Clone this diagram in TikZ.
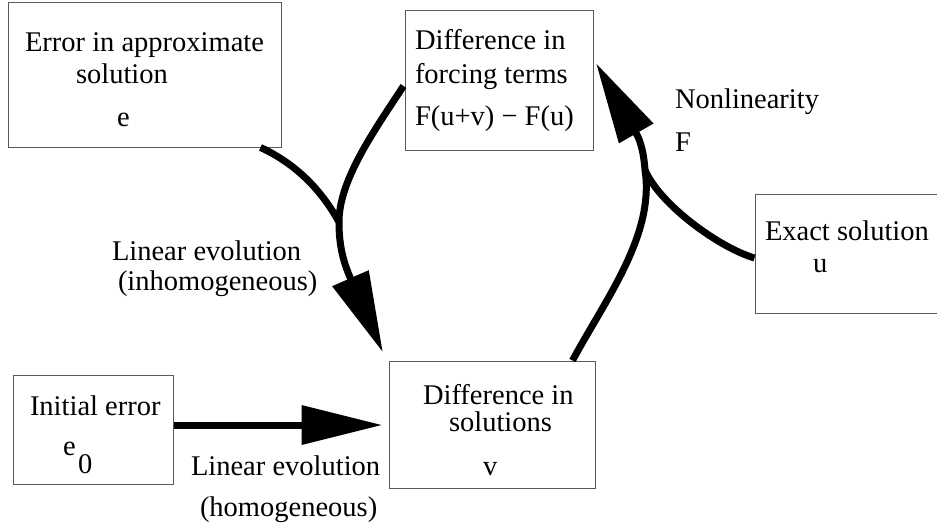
\documentclass[tikz,border=0pt]{standalone}
\usepackage{fontspec}
\setmainfont{Liberation Serif}
\usetikzlibrary{arrows.meta,calc}
\begin{document}
\begin{tikzpicture}[x=1pt,y=-1pt,
  box/.style={draw=black!65, line width=1pt, inner sep=0pt, rectangle},
  txt/.style={anchor=base west, inner sep=0pt, outer sep=0pt,
              font=\fontsize{28.5}{34}\selectfont},
  flow/.style={line width=7pt, line cap=butt, line join=round},
  head/.style={-{Triangle[length=80pt,width=40pt,line width=0pt]}},
]
\useasboundingbox (0,0) rectangle (937,527);
\clip (0,0) rectangle (937,527);

% boxes
\node[box, minimum width=273pt, minimum height=144pt] (A) at (144.5,75) {};
\node[box, minimum width=188pt, minimum height=139pt] (B) at (499,80.5) {};
\node[box, minimum width=205pt, minimum height=119pt] (C) at (857.5,253.5) {};
\node[box, minimum width=160pt, minimum height=109pt] (D) at (93,429.5) {};
\node[box, minimum width=206pt, minimum height=127pt] (E) at (492,424.5) {};

% box texts
\node[txt] (tA1) at (25,52) {Error in approximate};
\node[txt] (tA2) at (76,83) {solution};
\node[txt] (tA3) at (117,126) {e};
\node[txt] (tB1) at (415,50) {Difference in};
\node[txt] (tB2) at (415,83) {forcing terms};
\node[txt] (tB3) at (415,125) {F(u+v) − F(u)};
\node[txt] (tC1) at (765,240) {Exact solution};
\node[txt] (tC2) at (813,272) {u};
\node[txt] (tD1) at (30,415) {Initial error};
\node[txt] (tD2) at (63,455) {e};
\node[txt] (tD3) at (78,473) {0};
\node[txt] (tE1) at (423,404) {Difference in};
\node[txt] (tE2) at (449,431) {solutions};
\node[txt] (tE3) at (483,475) {v};

% connector labels
\node[txt] (tN1) at (675,108) {Nonlinearity};
\node[txt] (tN2) at (675,151) {F};
\node[txt] (tL1) at (112,260) {Linear evolution};
\node[txt] (tL2) at (118,290) {(inhomogeneous)};
\node[txt] (tL3) at (191,475) {Linear evolution};
\node[txt] (tL4) at (200,516) {(homogeneous)};

% junctions where two flows merge
\coordinate (m1) at (339,222);
\coordinate (m2) at (645,170);

% forcing difference -> difference in solutions (with error branch)
\draw[flow, head] ($(B.west)+(-1,5.5)$) .. controls (374,131) and (339,180) .. (m1)
  .. controls (339,244) and (342.6,260.5) .. (350.7,278.8) -- ($(E.north west)+(-6,-9)$);
\draw[flow] ($(A.south east)+(-21,0)$) .. controls (290,161) and (318,184) .. (m1);

% difference in solutions -> forcing difference (with exact solution branch)
\draw[flow, head] ($(E.north east)+(-23,0)$) .. controls (605,300) and (655,235) .. (m2)
  .. controls (644,155) and (641,141.6) .. (636,133) -- ($(B.east)+(3,-16.5)$);
\draw[flow] ($(C.west)+(0,4.5)$) .. controls (720,248) and (660,205) .. (m2);

% initial error -> difference in solutions
\draw[flow, head] ($(D.east)+(0,-4.5)$) -- ($(E.west)+(-7,0.5)$);
\end{tikzpicture}
\end{document}
